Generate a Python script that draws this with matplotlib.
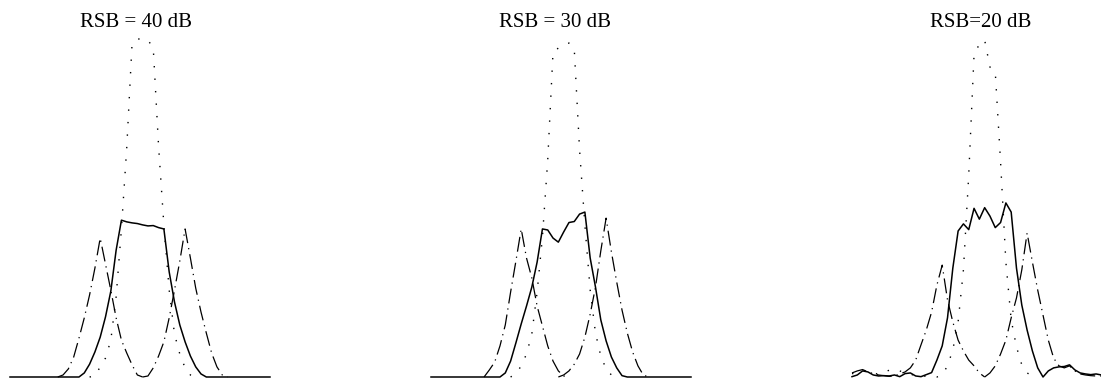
import numpy as np
import matplotlib
matplotlib.use("Agg")
import matplotlib.pyplot as plt

# Spectral profiles on a 50-bin axis, three noise levels
titles = ["RSB = 40 dB", "RSB = 30 dB", "RSB=20 dB"]
n_bins = 50

# ---- RSB = 40 dB ----
solid_40 = [0, 0, 0, 0, 0, 0, 0, 0, 0, 0, 0, 0, 0, 0,
            0.012, 0.038, 0.074, 0.118, 0.178, 0.254, 0.375, 0.464, 0.459, 0.456,
            0.454, 0.450, 0.447, 0.448, 0.442, 0.438, 0.311, 0.222, 0.154, 0.104,
            0.062, 0.030, 0.009,
            0, 0, 0, 0, 0, 0, 0, 0, 0, 0, 0, 0, 0]
dotted_40_start = 15
dotted_40 = [0, 0.003, 0.030, 0.056, 0.109, 0.237, 0.438, 0.678, 0.985, 1.0, 1.0,
             0.997, 0.973, 0.683, 0.450, 0.257, 0.127, 0.068, 0.027, 0.006, 0]
left_40_start = 9
left_40 = [0, 0.006, 0.024, 0.059, 0.115, 0.175, 0.243, 0.322, 0.411, 0.334, 0.257,
           0.175, 0.109, 0.071, 0.036, 0.006, 0]
right_40_start = 25
right_40 = [0, 0.003, 0.027, 0.062, 0.104, 0.175, 0.257, 0.343, 0.438, 0.352, 0.263,
            0.192, 0.130, 0.071, 0.030, 0.006, 0]

# ---- RSB = 30 dB ----
solid_30 = [0, 0, 0, 0, 0, 0, 0, 0, 0, 0, 0, 0, 0, 0,
            0.012, 0.047, 0.101, 0.157, 0.210, 0.266, 0.340, 0.438, 0.435, 0.411,
            0.399, 0.429, 0.457, 0.460, 0.482, 0.488, 0.352, 0.266, 0.169, 0.107,
            0.059, 0.027, 0.004,
            0, 0, 0, 0, 0, 0, 0, 0, 0, 0, 0, 0, 0]
dotted_30_start = 15
dotted_30 = [0, 0.009, 0.033, 0.068, 0.127, 0.251, 0.414, 0.642, 0.962, 0.973, 0.982,
             0.988, 0.970, 0.672, 0.450, 0.257, 0.130, 0.062, 0.024, 0.006, 0]
left_30_start = 10
left_30 = [0, 0.021, 0.044, 0.092, 0.154, 0.251, 0.343, 0.438, 0.352, 0.293, 0.210,
           0.151, 0.092, 0.047, 0.018, 0.003, 0]
right_30_start = 24
right_30 = [0, 0.006, 0.018, 0.038, 0.068, 0.118, 0.186, 0.266, 0.373, 0.470, 0.370,
            0.281, 0.198, 0.130, 0.074, 0.033, 0.006, 0]

# ---- RSB = 20 dB ----
solid_20 = [0.001, 0.006, 0.018, 0.015, 0.006, 0.003, 0.004, 0.003, 0.006, 0.001,
            0.010, 0.012, 0.003, 0.001, 0.007, 0.013, 0.050, 0.092, 0.175, 0.322,
            0.432, 0.453, 0.436, 0.499, 0.467, 0.501, 0.476, 0.442, 0.457, 0.515,
            0.488, 0.322, 0.213, 0.139, 0.077, 0.027, 0.0, 0.018, 0.027, 0.030,
            0.031, 0.036, 0.021, 0.012, 0.009, 0.007, 0.009, 0.006, 0.003, 0.003]
dotted_20_start = 0
dotted_20 = [0.010, 0.012, 0.020, 0.016, 0.012, 0.008, 0.014, 0.020, 0.022, 0.018,
             0.012, 0.008, 0.005, 0.004, 0.002, 0.001,
             0, 0.006, 0.033, 0.080, 0.163, 0.317, 0.598, 0.953, 0.985, 0.997,
             0.917, 0.902, 0.636, 0.340, 0.169, 0.089, 0.036, 0.012, 0.003, 0]
left_20_start = 0
left_20 = [0.012, 0.018, 0.022, 0.015, 0.010, 0.006, 0.004, 0.002, 0.003, 0.009,
           0.015, 0.027, 0.050, 0.095, 0.139, 0.192, 0.272, 0.331, 0.228, 0.163,
           0.109, 0.077, 0.050, 0.033, 0.012, 0]
right_20_start = 25
right_20 = [0, 0.012, 0.033, 0.068, 0.109, 0.175, 0.234, 0.317, 0.426, 0.340, 0.257,
            0.183, 0.109, 0.056, 0.033, 0.027, 0.033, 0.018, 0.009, 0.006, 0.004,
            0.003, 0.003, 0.002, 0.002]

panels = [
    (solid_40, (dotted_40_start, dotted_40), (left_40_start, left_40), (right_40_start, right_40)),
    (solid_30, (dotted_30_start, dotted_30), (left_30_start, left_30), (right_30_start, right_30)),
    (solid_20, (dotted_20_start, dotted_20), (left_20_start, left_20), (right_20_start, right_20)),
]

W, H, DPI = 1101, 380, 100
fig = plt.figure(figsize=(W / DPI, H / DPI), dpi=DPI)
fig.patch.set_facecolor("white")

panel_left_px = [10, 431, 852]
panel_width_px = 260
base_px, top_px = 377, 39
title_x = [23.84, 23.28, 24.26]

dot_style = (0, (1.0, 8.0))
dashdot_style = (0, (12.0, 4.0, 1.0, 4.0))

for i, (solid, dotted, left, right) in enumerate(panels):
    ax = fig.add_axes([panel_left_px[i] / W, (H - base_px) / H,
                       panel_width_px / W, (base_px - top_px) / H])
    ax.set_xlim(0, n_bins - 1)
    ax.set_ylim(0, 1)
    ax.axis("off")

    def draw(start, vals, **kw):
        x = np.arange(start, start + len(vals))
        ax.plot(x, vals, color="black", clip_on=False, **kw)

    draw(dotted[0], dotted[1], lw=1.0, linestyle=dot_style)
    draw(left[0], left[1], lw=0.9, linestyle=dashdot_style)
    draw(right[0], right[1], lw=0.9, linestyle=dashdot_style)
    draw(0, solid, lw=1.1, linestyle="-")

    ax.text(title_x[i], (base_px - 27) / (base_px - top_px), titles[i],
            ha="center", va="baseline", fontsize=15,
            family=["Liberation Serif", "DejaVu Serif"], clip_on=False)

fig.savefig("out.png", dpi=DPI, facecolor="white")
